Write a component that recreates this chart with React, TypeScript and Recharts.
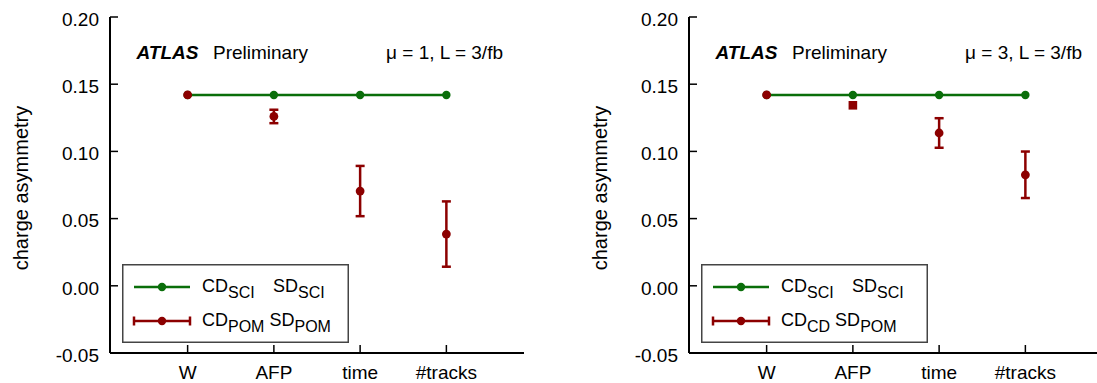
import React from "react"
import { ComposedChart, Line, ErrorBar, XAxis, YAxis, Legend, Label } from "recharts"

const CATEGORIES = ["W", "AFP", "time", "#tracks"]
const X_TICKS = [0, 1, 2, 3]
const Y_TICKS = [-0.05, 0, 0.05, 0.1, 0.15, 0.2]

// mu = 1
const SCI_MU1 = [0.142, 0.142, 0.142, 0.142]
const POM_MU1 = [0.142, 0.126, 0.0705, 0.0385]
const POM_MU1_ERR = [0, 0.005, 0.0187, 0.0243]

// mu = 3
const SCI_MU3 = [0.142, 0.142, 0.142, 0.142]
const CD_MU3 = [0.142, 0.1343, 0.1137, 0.0826]
const CD_MU3_ERR = [0, 0, 0.011, 0.0173]

const SCI_LABELS = [["CD", "SCI"], ["SD", "SCI"]]
const POM_LABELS = [["CD", "POM"], ["SD", "POM"]]
const CD_LABELS = [["CD", "CD"], ["SD", "POM"]]

const GREEN = "#0a6e0a"
const RED = "#8c0000"
const FONT = "'Liberation Sans', Arial, sans-serif"
const TICK_FONT = 19
const PLOT_W = 414

function LegendBox({ redLabels }: { redLabels: string[][] }) {
  const rows = [
    { labels: SCI_LABELS, y: 23, color: GREEN, err: false, secondX: 151 },
    { labels: redLabels, y: 57, color: RED, err: true, secondX: undefined },
  ]
  return (
    <svg width={227} height={79} style={{ display: "block", fontFamily: FONT }}>
      <rect x={0.75} y={0.75} width={225.5} height={77.5} fill="#fff" stroke="#444" strokeWidth={1.5} />
      {rows.map((r) => (
        <g key={r.y}>
          <line x1={12} x2={68} y1={r.y} y2={r.y} stroke={r.color} strokeWidth={2.5} />
          {r.err && (
            <>
              <line x1={12} x2={12} y1={r.y - 4.5} y2={r.y + 4.5} stroke={r.color} strokeWidth={2.5} />
              <line x1={68} x2={68} y1={r.y - 4.5} y2={r.y + 4.5} stroke={r.color} strokeWidth={2.5} />
            </>
          )}
          <circle cx={40} cy={r.y} r={4.2} fill={r.color} />
          <text x={80} y={r.y + 5} fontSize={18} fill="#000" style={{ whiteSpace: "pre" }}>
            <tspan>{r.labels[0][0]}</tspan>
            <tspan fontSize={16} dy={6}>
              {r.labels[0][1]}
            </tspan>
            <tspan x={r.secondX} dy={-6}>
              {r.secondX === undefined ? " " + r.labels[1][0] : r.labels[1][0]}
            </tspan>
            <tspan fontSize={16} dy={6}>
              {r.labels[1][1]}
            </tspan>
          </text>
        </g>
      ))}
    </svg>
  )
}

function Panel({
  sci,
  red,
  redErr,
  redLabels,
  mu,
  squareAt,
}: {
  sci: number[]
  red: number[]
  redErr: number[]
  redLabels: string[][]
  mu: string
  squareAt: number
}) {
  const sciData = sci.map((y, i) => ({ x: i, y }))
  const redData = red.map((y, i) => ({ x: i, y, err: redErr[i] }))

  const redDot = (props: any) => {
    const { cx, cy, payload, index } = props
    if (payload.x === squareAt)
      return <rect key={index} x={cx - 4.3} y={cy - 4.3} width={8.6} height={8.6} fill={RED} />
    return <circle key={index} cx={cx} cy={cy} r={4.4} fill={RED} />
  }

  const axisCommon = {
    stroke: "#000",
    axisLine: { stroke: "#000", strokeWidth: 2 },
    tickLine: { stroke: "#000", strokeWidth: 1.5 },
    tickSize: -8,
  }

  return (
    <ComposedChart
      width={540}
      height={383}
      margin={{ top: 17, right: 16, bottom: 0, left: 0 }}
      style={{ fontFamily: FONT }}
    >
      <XAxis
        {...axisCommon}
        type="number"
        dataKey="x"
        domain={[-0.9, 3.9]}
        ticks={X_TICKS}
        tickFormatter={(v: number) => CATEGORIES[v]}
        tick={{ fill: "#000", fontSize: TICK_FONT }}
        tickMargin={21}
        height={30}
        allowDataOverflow
      />
      <XAxis
        {...axisCommon}
        xAxisId="top"
        orientation="top"
        type="number"
        dataKey="x"
        domain={[-0.9, 3.9]}
        ticks={X_TICKS}
        tick={false}
        height={0}
        allowDataOverflow
      />
      <YAxis
        {...axisCommon}
        type="number"
        dataKey="y"
        domain={[-0.05, 0.2]}
        ticks={Y_TICKS}
        tickFormatter={(v: number) => v.toFixed(2)}
        tick={{ fill: "#000", fontSize: TICK_FONT, dy: 2 }}
        tickMargin={19}
        width={110}
        allowDataOverflow
      >
        <Label
          content={({ viewBox }: any) => {
            const cx = viewBox.x + 21
            const cy = viewBox.y + viewBox.height / 2 + 3
            const left = viewBox.x + viewBox.width
            const top = viewBox.y
            return (
              <g fontSize={TICK_FONT} fill="#000" style={{ fontFamily: FONT }}>
                <text
                  x={cx}
                  y={cy}
                  transform={`rotate(-90 ${cx} ${cy})`}
                  textAnchor="middle"
                  dominantBaseline="central"
                  fontSize={20}
                >
                  charge asymmetry
                </text>
                <text x={left + 26.5} y={top + 42} fontWeight="bold" fontStyle="italic">
                  ATLAS
                </text>
                <text x={left + 103} y={top + 42}>
                  Preliminary
                </text>
                <text x={left + PLOT_W - 21} y={top + 42} textAnchor="end">
                  {mu}
                </text>
              </g>
            )
          }}
        />
      </YAxis>
      <YAxis
        {...axisCommon}
        yAxisId="right"
        orientation="right"
        type="number"
        dataKey="y"
        domain={[-0.05, 0.2]}
        ticks={Y_TICKS}
        tick={false}
        width={0}
        allowDataOverflow
      />
      <Legend
        layout="vertical"
        align="center"
        verticalAlign="middle"
        wrapperStyle={{ left: 122, top: 264, width: 227, height: 79 }}
        content={() => <LegendBox redLabels={redLabels} />}
      />
      <Line
        data={sciData}
        dataKey="y"
        stroke={GREEN}
        strokeWidth={2.5}
        dot={{ r: 4.2, fill: GREEN, stroke: GREEN, strokeWidth: 0 }}
        activeDot={false}
        isAnimationActive={false}
      />
      <Line
        data={redData}
        dataKey="y"
        stroke="none"
        strokeWidth={0}
        dot={redDot}
        activeDot={false}
        isAnimationActive={false}
      >
        <ErrorBar dataKey="err" direction="y" width={4.5} stroke={RED} strokeWidth={2.5} />
      </Line>
    </ComposedChart>
  )
}

export default function App() {
  return (
    <div
      style={{
        position: "absolute",
        left: 0,
        top: 0,
        width: 1097,
        height: 383,
        overflow: "hidden",
        background: "#fff",
      }}
    >
      <div style={{ position: "absolute", left: 0, top: 0 }}>
        <Panel
          sci={SCI_MU1}
          red={POM_MU1}
          redErr={POM_MU1_ERR}
          redLabels={POM_LABELS}
          mu="μ = 1, L = 3/fb"
          squareAt={-1}
        />
      </div>
      <div style={{ position: "absolute", left: 579, top: 0 }}>
        <Panel
          sci={SCI_MU3}
          red={CD_MU3}
          redErr={CD_MU3_ERR}
          redLabels={CD_LABELS}
          mu="μ = 3, L = 3/fb"
          squareAt={1}
        />
      </div>
    </div>
  )
}
